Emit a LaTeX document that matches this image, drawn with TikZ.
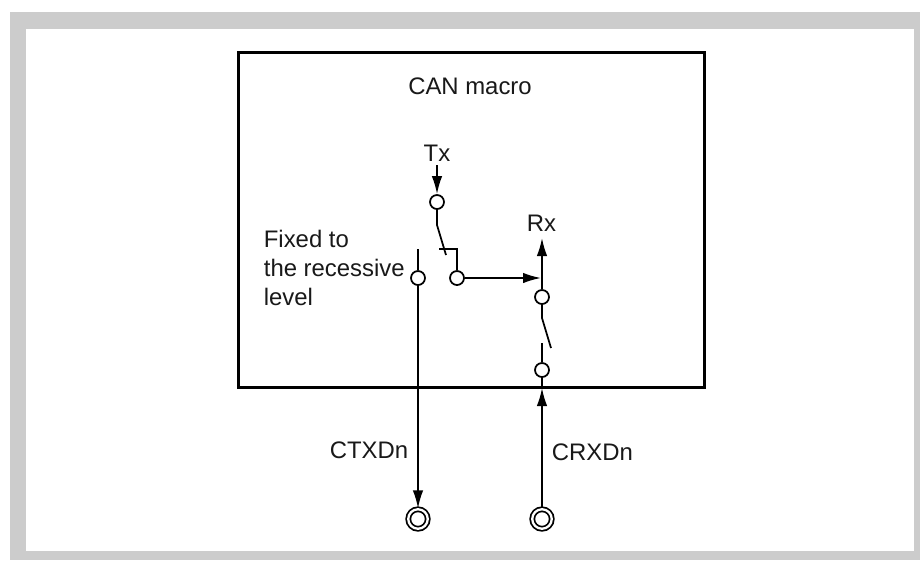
\documentclass[tikz,border=0pt]{standalone}
\usepackage{fontspec}
\setmainfont{Liberation Sans}
\usetikzlibrary{arrows.meta,positioning}

\begin{document}
\begin{tikzpicture}[
          x=0.2mm, y=-0.2mm,
          line width=1pt,
          pin/.style={circle, draw, fill=white, inner sep=0pt, minimum size=2.8mm},
          outpin/.style={circle, draw, double, double distance=1.3pt, fill=white, inner sep=0pt, minimum size=3.9mm},
          lbl/.style={inner sep=0pt, text=black!90, font=\fontsize{13.6}{16.5}\selectfont},
          macrobox/.style={rectangle, draw, line width=1.5pt, anchor=north west, inner sep=0pt,
                           minimum width=9.32cm, minimum height=6.7cm},
          >={Latex[length=3.6mm,width=2.1mm]}
        ]
        \useasboundingbox (0,0) rectangle (920,560);
        \fill[white] (0,0) rectangle (920,560);
        \fill[black!20] (10,12) rectangle (920,560);
        \fill[white] (26,29) rectangle (914,551);
        \node[macrobox] (macro) at (237,51) {};
        \node[lbl, anchor=base] (title) at (470,94) {CAN macro};
        % contacts
        \node[pin] (tx) at (437,202) {};
        \node[pin] (txout) at (457,278) {};
        \node[pin] (fixed) at (418,278) {};
        \node[pin] (rx) at (542,297) {};
        \node[pin] (rxin) at (542,370) {};
        \node[outpin] (ctxd) at (418,519) {};
        \node[outpin] (crxd) at (542,519) {};
        % free ends
        \coordinate (txtop) at (437,165);
        \coordinate (txhinge) at (437,225);
        \coordinate (txarm) at (446,255);
        \coordinate (txbar) at (439,249);
        \coordinate (txcorner) at (457,249);
        \coordinate (fixedtop) at (418,249);
        \coordinate (rxtop) at (542,238);
        \coordinate (rxjoin) at (541,278);
        \coordinate (rxhinge) at (542,318);
        \coordinate (rxarm) at (551,348);
        \coordinate (rxstub) at (542,343);
        \coordinate (rxedge) at (542,388);
        % labels
        \node[lbl, anchor=base] (txl) at (437,161) {Tx};
        \node[lbl, anchor=base] (rxl) at (541.5,231) {Rx};
        \node[lbl, align=left, anchor=west] (fixedl) at (263,268) {Fixed to\\the recessive\\level};
        \node[lbl, anchor=base east] (ctxl) at (409,458) {CTXDn};
        \node[lbl, anchor=base west] (crxl) at (551,460) {CRXDn};
        % wires
        \draw[->] (txtop) -- (tx);
        \draw (tx) -- (txhinge) -- (txarm);
        \draw (txbar) -- (txcorner) -- (txout);
        \draw[->] (txout) -- (rxjoin);
        \draw[->] (rx) -- (rxtop);
        \draw (rx) -- (rxhinge) -- (rxarm);
        \draw (rxstub) -- (rxin);
        \draw (rxin) -- (rxedge);
        \draw[->] (crxd) -- (rxedge);
        \draw (fixedtop) -- (fixed);
        \draw[->] (fixed) -- (ctxd);
      \end{tikzpicture}
\end{document}
